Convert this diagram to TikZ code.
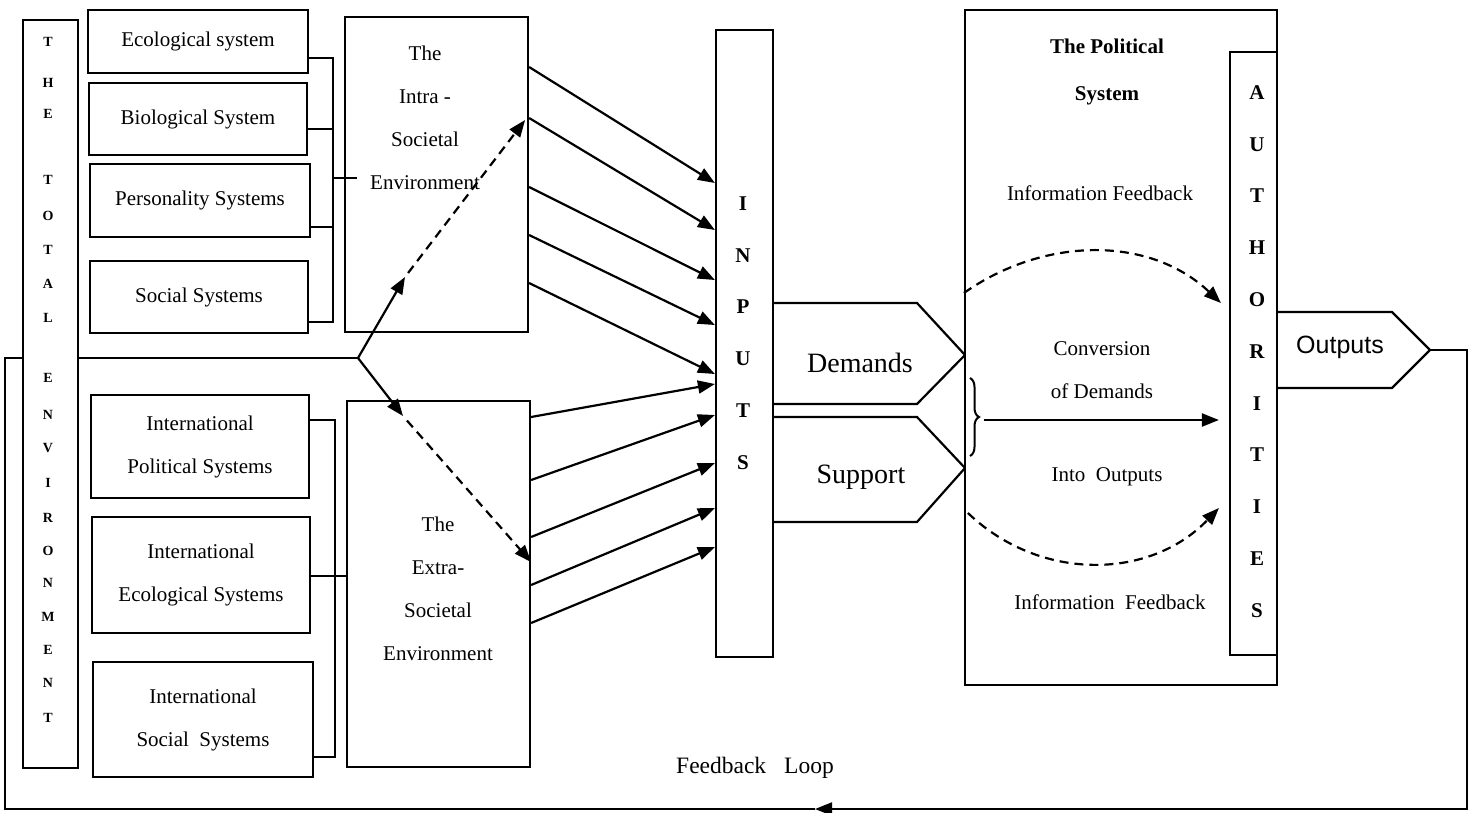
\documentclass[tikz,border=0pt]{standalone}
\usepackage{fontspec}
\setmainfont{Liberation Serif}
\newfontfamily\sansf{Liberation Sans}
\usetikzlibrary{arrows.meta,decorations.pathreplacing,calc}
\begin{document}
\begin{tikzpicture}[x=1pt,y=-1pt,
  ln/.style={line width=2.2pt},
  box/.style={draw, line width=2.2pt, fill=white, inner sep=0pt},
  txt/.style={font=\fontsize{21}{43}\selectfont, align=center, inner sep=0pt},
  btxt/.style={font=\fontsize{21}{47}\selectfont\bfseries, align=center, inner sep=0pt},
  vl/.style={font=\fontsize{14}{14}\selectfont\bfseries, inner sep=0pt},
  vcol/.style={font=\fontsize{21}{51.8}\selectfont\bfseries, align=center, inner sep=0pt},
  big/.style={font=\fontsize{28}{28}\selectfont, inner sep=0pt},
  arr/.style={line width=2.2pt, -{Triangle[length=17pt,width=13pt]}},
  dsh/.style={dash pattern=on 9pt off 6pt}]
\useasboundingbox (0,0) rectangle (1472,812);

% ---------- coordinates of the loop ----------
\coordinate (fork) at (358,358);
\coordinate (outtip) at (1430,350);
\coordinate (lpA) at (1467,350);
\coordinate (lpB) at (1467,809);
\coordinate (lpArr) at (815,809);
\coordinate (lpC) at (5,809);
\coordinate (lpD) at (5,358);

\draw[arr] (outtip) -- (lpA) -- (lpB) -- (lpArr);
\draw[ln] (lpArr) -- (lpC) -- (lpD) -- (fork);

% ---------- total environment bar ----------
\node[box, minimum width=55, minimum height=748] (tot) at (50.5,394) {};
\foreach \l/\yy [count=\i] in {T/42,H/83,E/114,T/180,O/216,T/250,A/284,L/318,E/378,N/415,V/448,I/483,R/518,O/551,N/583,M/617,E/650,N/683,T/718}
  \node[vl] (te\i) at (48,\yy) {\l};

% ---------- intra-societal systems ----------
\node[box, minimum width=220, minimum height=63, txt] (eco) at (198,41.5) {Ecological system};
\node[box, minimum width=218, minimum height=72, txt] (bio) at (198,119) {Biological System};
\node[box, minimum width=220, minimum height=73, txt] (pers) at (200,200.5) {Personality Systems};
\node[box, minimum width=218, minimum height=72, txt] (soc) at (199,297) {Social Systems};

\coordinate (tbT) at (333,58);
\coordinate (tbB) at (333,322);
\coordinate (tbJ) at (333,178);
\draw[ln] (eco.east |- tbT) -- (tbT) -- (tbB) -- (soc.east |- tbB);
\draw[ln] (bio.east |- 0,129) -- (tbJ |- 0,129);
\draw[ln] (pers.east |- 0,227) -- (tbJ |- 0,227);

\node[box, minimum width=183, minimum height=315] (intra) at (436.5,174.5) {};
\node[txt] (intraT) at (425,118) {The\\Intra -\\Societal\\Environment};
\draw[ln] (tbJ) -- ([xshift=13pt]intra.west |- tbJ);

% ---------- extra-societal systems ----------
\node[box, minimum width=218, minimum height=103, txt] (ipol) at (200,446.5) {International\\Political Systems};
\node[box, minimum width=218, minimum height=116, txt] (ieco) at (201,575) {International\\Ecological Systems};
\node[box, minimum width=220, minimum height=115, txt] (isoc) at (203,719.5) {International\\Social\ \ Systems};

\coordinate (bbT) at (335,420);
\coordinate (bbB) at (335,757);
\draw[ln] (ipol.east |- bbT) -- (bbT) -- (bbB) -- (isoc.east |- bbB);

\node[box, minimum width=183, minimum height=366] (extra) at (438.5,584) {};
\node[txt] (extraT) at (438,589) {The\\Extra-\\Societal\\Environment};
\draw[ln] (ieco.east |- 0,576) -- (extra.west |- 0,576);

% ---------- fork arrows ----------
\coordinate (fu) at (405,277);
\coordinate (fl) at (403,416);
\draw[arr] (fork) -- (fu);
\draw[arr] (fork) -- (fl);
\draw[arr, dsh, shorten <=5pt] (fu) -- ([xshift=-4pt]intra.east |- 0,120);
\draw[arr, dsh, shorten <=6pt] (fl) -- (extra.east |- 0,562);

% ---------- inputs ----------
\node[box, minimum width=57, minimum height=627] (inp) at (744.5,343.5) {};
\node[vcol] (inpT) at (743,333) {I\\N\\P\\U\\T\\S};

\foreach \a/\b in {67/183,118/230,187/280,235/325,283/374}
  \draw[arr] (intra.east |- 0,\a) -- (inp.west |- 0,\b);
\foreach \a/\b in {417/384,480/415,537/463,585/508,623/547}
  \draw[arr] (extra.east |- 0,\a) -- (inp.west |- 0,\b);

% ---------- demands / support ----------
\draw[ln] (inp.east |- 0,303) -- (917,303) -- (965,355) -- (917,404) -- (inp.east |- 0,404);
\node[big] (dem) at (860,363) {Demands};
\draw[ln] (inp.east |- 0,417) -- (917,417) -- (965,468) -- (917,522) -- (inp.east |- 0,522);
\node[big] (sup) at (861,477) {Support};

% ---------- political system ----------
\node[box, minimum width=312, minimum height=675] (pol) at (1121,347.5) {};
\node[box, minimum width=47, minimum height=603] (auth) at (1253.5,353.5) {};
\node[vcol] (authT) at (1257,351.5) {A\\U\\T\\H\\O\\R\\I\\T\\I\\E\\S};

\node[btxt] (polT) at (1107,72) {The Political\\System};
\node[txt] (if1) at (1100,193) {Information Feedback};
\node[txt] (conv) at (1102,370) {Conversion\\of Demands};
\node[txt] (into) at (1107,477) {Into\ \ Outputs};
\node[txt] (if2) at (1110,602) {Information\ \ Feedback};

\draw[line width=2pt, decorate, decoration={brace, amplitude=9pt}] (970,378) -- (970,456);
\coordinate (bt) at (984,420);
\draw[arr] (bt) -- ([xshift=-10pt]auth.west |- bt);

\draw[arr, dsh] (pol.west |- 0,293) .. controls (1045,236) and (1150,236) .. ([xshift=-8pt]auth.west |- 0,303);
\draw[arr, dsh] ([xshift=4pt]pol.west |- 0,513) .. controls (1040,582) and (1150,580) .. ([xshift=-10pt]auth.west |- 0,508);

% ---------- outputs ----------
\draw[ln] (auth.east |- 0,312) -- (1392,312) -- (outtip) -- (1392,388) -- (auth.east |- 0,388);
\node[font=\fontsize{25}{25}\selectfont\sansf, inner sep=0pt] (outT) at (1340,347) {Outputs};

% ---------- feedback label ----------
\node[font=\fontsize{23.5}{24}\selectfont, inner sep=0pt] (fbl) at (755,768) {Feedback\hspace{18pt}Loop};
\end{tikzpicture}
\end{document}
